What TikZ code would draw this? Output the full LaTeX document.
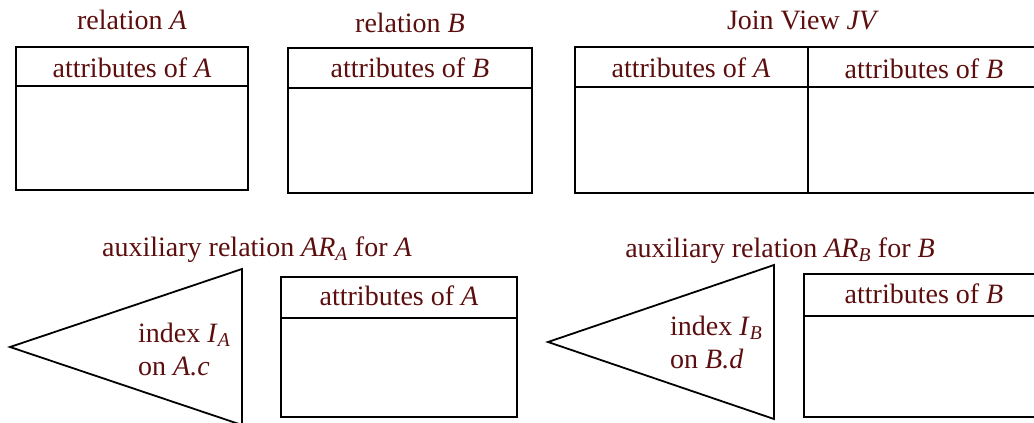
\documentclass[tikz,border=0pt]{standalone}
\usepackage{fontspec}
\setmainfont{Liberation Serif}
\definecolor{txt}{RGB}{92,14,14}
\begin{document}
\begin{tikzpicture}[x=1pt,y=-1pt,
  box/.style={line width=1.8pt, draw=black},
  sep/.style={line width=1.4pt, draw=black},
  lbl/.style={text=txt, font=\fontsize{28}{32}\selectfont, inner sep=0pt, anchor=base},
  lbll/.style={lbl, anchor=base west}]
\useasboundingbox (0,0) rectangle (1034,423);
% relation A
\node[lbl] (tA) at (132,30) {relation \textit{A}};
\draw[box] (16,47) rectangle (248,190);
\draw[sep] (16,86) -- (248,86);
\node[lbl] (hA) at (132,77) {attributes of \textit{A}};
% relation B
\node[lbl] (tB) at (410,32) {relation \textit{B}};
\draw[box] (288,48) rectangle (532,193);
\draw[sep] (288,88) -- (532,88);
\node[lbl] (hB) at (410,77) {attributes of \textit{B}};
% Join view
\node[lbl] (tJ) at (803,29) {Join View \textit{JV}};
\draw[box] (575,47) rectangle (1040,193);
\draw[sep] (575,87) -- (1040,87);
\draw[box] (808,47) -- (808,193);
\node[lbl] (hJA) at (691,77) {attributes of \textit{A}};
\node[lbl] (hJB) at (924,78) {attributes of \textit{B}};
% auxiliary A
\node[lbl] (tARA) at (257,256) {auxiliary relation \textit{AR}\textsubscript{\textit{A}} for \textit{A}};
\draw[box, line join=miter] (242,269) -- (10,347) -- (242,425) -- cycle;
\node[lbll] (iA1) at (138,342) {index \textit{I}\textsubscript{\textit{A}}};
\node[lbll] (iA2) at (138,375) {on \textit{A.c}};
\draw[box] (281,277) rectangle (517,417);
\draw[sep] (281,318) -- (517,318);
\node[lbl] (hARA) at (399,305) {attributes of \textit{A}};
% auxiliary B
\node[lbl] (tARB) at (780,257) {auxiliary relation \textit{AR}\textsubscript{\textit{B}} for \textit{B}};
\draw[box, line join=miter] (774,265) -- (548,342) -- (774,419) -- cycle;
\node[lbll] (iB1) at (670,335) {index \textit{I}\textsubscript{\textit{B}}};
\node[lbll] (iB2) at (670,368) {on \textit{B.d}};
\draw[box] (804,274) rectangle (1040,417);
\draw[sep] (804,316) -- (1040,316);
\node[lbl] (hARB) at (924,303) {attributes of \textit{B}};
\end{tikzpicture}
\end{document}
